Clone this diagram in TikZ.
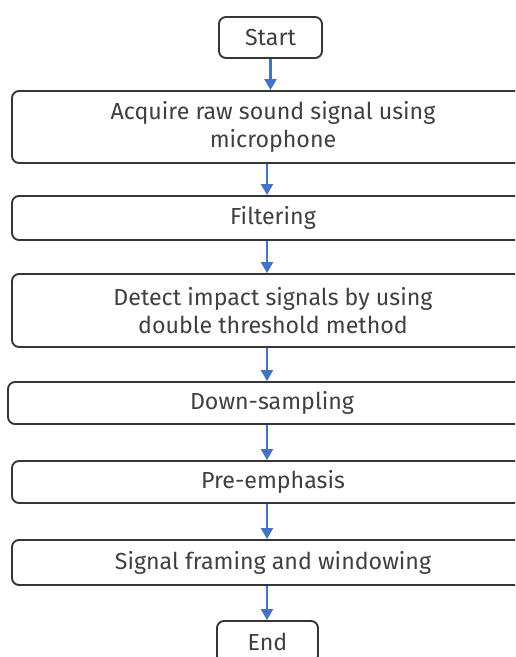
\documentclass[tikz,border=0pt]{standalone}
\usepackage{fontspec}
\setmainfont{Fira Sans}
\usetikzlibrary{arrows.meta}
\definecolor{boxline}{HTML}{353535}
\definecolor{txt}{HTML}{404040}
\definecolor{flow}{HTML}{4472C4}
\tikzset{
  stepbox/.style={draw=boxline, line width=1.9pt, rounded corners=7pt, fill=white,
    text=txt, align=center, inner sep=0pt, font=\fontsize{23.2}{28}\selectfont},
  flowarrow/.style={draw=flow, line width=2.2pt, -{Triangle[width=12pt,length=11pt]}}
}
\begin{document}
\begin{tikzpicture}[x=1pt,y=-1pt]
\useasboundingbox (0,0) rectangle (515,657);
\clip (0,0) rectangle (515,657);
\fill[white] (0,0) rectangle (515,657);

\node[stepbox, minimum width=103pt, minimum height=41pt] (start) at (270.5,37.5) {Start};
\node[stepbox, minimum width=522pt, minimum height=72pt] (acq) at (273,127) {Acquire raw sound signal using\\microphone};
\node[stepbox, minimum width=522pt, minimum height=44pt] (filt) at (273,218) {Filtering};
\node[stepbox, minimum width=522pt, minimum height=73pt] (det) at (273,310.5) {Detect impact signals by using\\double threshold method};
\node[stepbox, minimum width=528pt, minimum height=42pt] (down) at (272,403) {Down-sampling};
\node[stepbox, minimum width=522pt, minimum height=42pt] (pre) at (273,482) {Pre-emphasis};
\node[stepbox, minimum width=522pt, minimum height=45pt] (frame) at (273,562.5) {Signal framing and windowing};
\node[stepbox, minimum width=101pt, minimum height=42pt] (end) at (267.5,642) {End};

\coordinate (ax) at (267,0);
\draw[flowarrow] (start.south) -- (start.south |- acq.north);
\draw[flowarrow] (acq.south -| ax) -- (filt.north -| ax);
\draw[flowarrow] (filt.south -| ax) -- (det.north -| ax);
\draw[flowarrow] (det.south -| ax) -- (down.north -| ax);
\draw[flowarrow] (down.south -| ax) -- (pre.north -| ax);
\draw[flowarrow] (pre.south -| ax) -- (frame.north -| ax);
\draw[flowarrow] (frame.south -| ax) -- (end.north -| ax);
\end{tikzpicture}
\end{document}
